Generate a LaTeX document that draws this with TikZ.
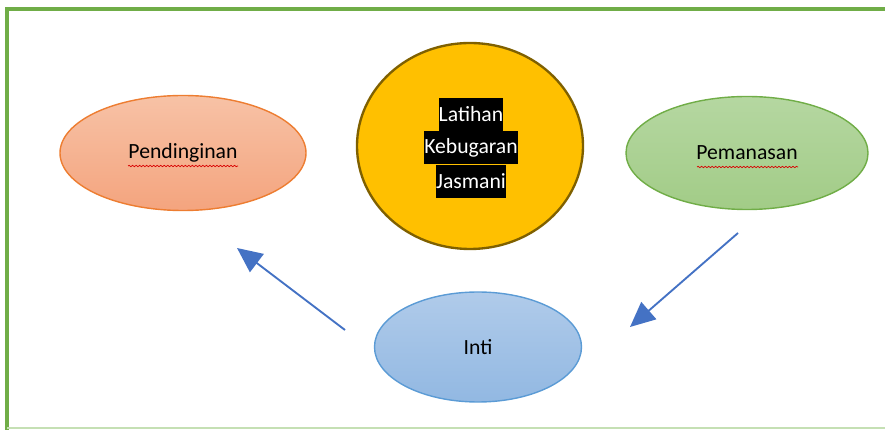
\documentclass[tikz,border=0pt]{standalone}
\usepackage{fontspec}
\setmainfont{Carlito}
\usetikzlibrary{shapes.geometric,arrows.meta,positioning,decorations.pathmorphing}
\definecolor{framegreen}{HTML}{70AD47}
\definecolor{framelight}{HTML}{C5E0B4}
\definecolor{orangeline}{HTML}{ED7D31}
\definecolor{orangetop}{HTML}{F7C2A6}
\definecolor{orangebot}{HTML}{F4A47E}
\definecolor{greenline}{HTML}{70AD47}
\definecolor{greentop}{HTML}{B5D7A1}
\definecolor{greenbot}{HTML}{A2CC87}
\definecolor{blueline}{HTML}{5B9BD5}
\definecolor{bluetop}{HTML}{B0CBEA}
\definecolor{bluebot}{HTML}{92B8E2}
\definecolor{arrowblue}{HTML}{4472C4}
\definecolor{gold}{HTML}{FFC000}
\definecolor{goldline}{HTML}{7F6000}
\begin{document}
\begin{tikzpicture}[x=0.03cm,y=-0.03cm,
    phase/.style={ellipse,inner sep=0pt,line width=1.2pt,font=\fontsize{18.5}{22}\selectfont},
    lkj/.style={fill=black,text=white,inner sep=0pt,minimum height=0.99cm,font=\fontsize{18.5}{22}\selectfont},
    flow/.style={arrowblue,line width=1.6pt,-{Triangle[length=0.75cm,width=0.68cm]}},
    typo/.style={red!85!black,line width=0.6pt,decorate,decoration={snake,amplitude=0.6pt,segment length=3pt}}]
    \useasboundingbox (0,0) rectangle (885,430);
    % frame
    \draw[framegreen,line width=2.6pt] (885,9) -- (7,9) -- (7,430);
    \draw[framelight,line width=1.2pt] (7,428) -- (885,428);

    \node[phase,draw=orangeline,top color=orangetop,bottom color=orangebot,
        minimum width=7.38cm,minimum height=3.45cm] (pd) at (183,153) {Pendinginan};
    \node[phase,draw=greenline,top color=greentop,bottom color=greenbot,
        minimum width=7.26cm,minimum height=3.39cm] (pm) at (747,153) {Pemanasan};
    \node[phase,draw=blueline,top color=bluetop,bottom color=bluebot,
        minimum width=6.21cm,minimum height=3.3cm] (in) at (478,347) {Inti};
    \node[ellipse,draw=goldline,fill=gold,line width=2pt,inner sep=0pt,
        minimum width=6.78cm,minimum height=6.18cm] (lk) at (470,146) {};

    \node[lkj] (lk2) at (471,148) {Kebugaran};
    \node[lkj,above=0pt of lk2] (lk1) {Latihan};
    \node[lkj,below=0pt of lk2] (lk3) {Jasmani};

    \draw[typo] (128,166) -- (238,166);
    \draw[typo] (697,167) -- (798,167);

    \coordinate (a1) at (345,330); \coordinate (b1) at (237,248);
    \coordinate (a2) at (738,233); \coordinate (b2) at (630,327);
    \draw[flow] (a1) to (b1); \draw[flow] (a2) to (b2);
\end{tikzpicture}
\end{document}
